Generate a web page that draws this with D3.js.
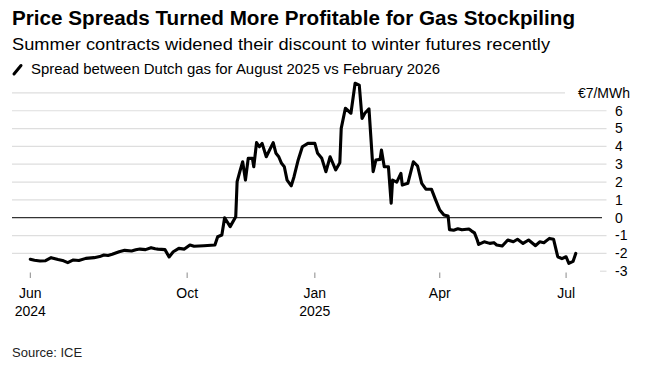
<!DOCTYPE html>
<html>
<head>
<meta charset="utf-8">
<script src="https://cdn.jsdelivr.net/npm/d3@7"></script>
<style>
  html, body { margin: 0; padding: 0; background: #fff; }
  svg { display: block; font-family: "Liberation Sans", Arial, sans-serif; }
</style>
</head>
<body>
<svg id="chart" width="645" height="367"></svg>
<script>
// ---- Data ----
const titleText = "Price Spreads Turned More Profitable for Gas Stockpiling";
const subtitleText = "Summer contracts widened their discount to winter futures recently";
const legendText = "Spread between Dutch gas for August 2025 vs February 2026";
const sourceText = "Source: ICE";
const unitLabel = "€7/MWh";

const dates = [
  "2024-06-10","2024-06-13","2024-06-17","2024-06-21","2024-06-25","2024-06-30","2024-07-04","2024-07-07",
  "2024-07-11","2024-07-15","2024-07-20","2024-07-26","2024-07-30","2024-08-02","2024-08-05","2024-08-08",
  "2024-08-13","2024-08-17","2024-08-22","2024-08-25","2024-08-28","2024-09-01","2024-09-05","2024-09-08",
  "2024-09-10","2024-09-15","2024-09-18","2024-09-21","2024-09-25","2024-09-29","2024-10-03","2024-10-06",
  "2024-10-13","2024-10-21","2024-10-23","2024-10-26","2024-10-28","2024-11-01","2024-11-05","2024-11-06",
  "2024-11-08","2024-11-10","2024-11-12","2024-11-14","2024-11-17","2024-11-18","2024-11-20","2024-11-22",
  "2024-11-24","2024-11-27","2024-12-02","2024-12-04","2024-12-06","2024-12-08","2024-12-10","2024-12-12",
  "2024-12-15","2024-12-17","2024-12-20","2024-12-23","2024-12-27","2025-01-01","2025-01-03","2025-01-06",
  "2025-01-09","2025-01-12","2025-01-16","2025-01-19","2025-01-20","2025-01-23","2025-01-27","2025-01-30",
  "2025-02-02","2025-02-04","2025-02-06","2025-02-09","2025-02-12","2025-02-14","2025-02-17","2025-02-18",
  "2025-02-20","2025-02-23","2025-02-25","2025-02-26","2025-03-01","2025-03-04","2025-03-05","2025-03-09",
  "2025-03-13","2025-03-16","2025-03-19","2025-03-22","2025-03-26","2025-03-29","2025-04-01","2025-04-04",
  "2025-04-07","2025-04-08","2025-04-11","2025-04-14","2025-04-17","2025-04-22","2025-04-24","2025-04-26",
  "2025-04-28","2025-04-29","2025-05-03","2025-05-07","2025-05-10","2025-05-12","2025-05-16","2025-05-20",
  "2025-05-24","2025-05-27","2025-05-31","2025-06-04","2025-06-09","2025-06-12","2025-06-15","2025-06-19",
  "2025-06-22","2025-06-25","2025-06-28","2025-07-01","2025-07-03","2025-07-06","2025-07-08"
];
const values = [
  -2.33,-2.39,-2.43,-2.41,-2.24,-2.35,-2.42,-2.52,
  -2.37,-2.40,-2.28,-2.24,-2.18,-2.09,-2.12,-2.05,
  -1.91,-1.83,-1.87,-1.80,-1.76,-1.79,-1.68,-1.74,
  -1.76,-1.79,-2.20,-1.91,-1.72,-1.76,-1.53,-1.60,
  -1.57,-1.53,-1.07,-0.97,0.00,-0.50,0.05,2.02,
  2.60,3.14,2.11,3.33,3.33,2.86,4.21,3.98,
  4.17,3.42,4.21,3.61,3.42,3.05,2.86,2.11,
  1.79,2.30,3.24,3.98,4.17,4.17,3.61,3.33,
  2.58,3.42,2.68,3.08,5.01,6.14,5.86,7.54,
  7.44,5.57,5.86,6.10,2.58,3.24,3.27,3.80,
  2.86,2.86,0.81,2.11,2.00,2.49,1.83,1.93,
  3.14,2.90,1.93,1.60,1.60,1.00,0.43,0.15,
  0.10,-0.67,-0.70,-0.62,-0.68,-0.63,-0.75,-0.85,
  -1.25,-1.50,-1.35,-1.44,-1.40,-1.53,-1.59,-1.25,
  -1.35,-1.21,-1.44,-1.25,-1.57,-1.35,-1.40,-1.16,
  -1.21,-2.19,-2.30,-2.19,-2.56,-2.45,-2.00
];
const yTicks = [-3,-2,-1,0,1,2,3,4,5,6,7];
const xTickDates = ["2024-06-10","2024-10-01","2025-01-01","2025-04-01","2025-07-01"];
const xTickMonths = ["Jun","Oct","Jan","Apr","Jul"];
const xTickYears = ["2024","","2025","",""];

// ---- Chart ----
const parse = d3.utcParse("%Y-%m-%d");
const data = dates.map((d, i) => ({ date: parse(d), value: values[i] }));

const svg = d3.select("#chart");

const x = d3.scaleUtc()
  .domain([parse("2024-06-10"), parse("2025-07-08")])
  .range([30.3, 575.8]);
const y = d3.scaleLinear().domain([-3, 7]).range([271.2, 92.9]);

const gridLeft = 12, gridRight = 606.5;

// gridlines
const grid = svg.append("g");
yTicks.forEach(t => {
  if (t === 0) return;
  let x1 = gridLeft, x2 = gridRight;
  if (t === -3) x1 = 600;
  if (t === 7) x2 = 565;
  grid.append("line")
    .attr("x1", x1).attr("x2", x2)
    .attr("y1", y(t)).attr("y2", y(t))
    .attr("stroke", "#dedede").attr("stroke-width", 1.2);
});

// y labels
const yl = svg.append("g").attr("font-size", 14).attr("fill", "#000");
yTicks.forEach(t => {
  if (t === 7) {
    yl.append("text").attr("x", 630).attr("y", y(t)).attr("dy", "0.35em")
      .attr("text-anchor", "end").text(unitLabel);
  } else {
    yl.append("text").attr("x", 615).attr("y", y(t)).attr("dy", "0.35em")
      .text(String(t));
  }
});

// zero line
svg.append("line")
  .attr("x1", gridLeft).attr("x2", 602)
  .attr("y1", y(0)).attr("y2", y(0))
  .attr("stroke", "#000").attr("stroke-width", 1);

// x axis ticks & labels
const xa = svg.append("g");
xTickDates.forEach((d, i) => {
  const px = x(parse(d));
  xa.append("line").attr("x1", px).attr("x2", px).attr("y1", 272.5).attr("y2", 278)
    .attr("stroke", "#8a8a8a").attr("stroke-width", 1);
  xa.append("text").attr("x", px).attr("y", 297.5).attr("text-anchor", "middle")
    .attr("font-size", 14).text(xTickMonths[i]);
  if (xTickYears[i]) {
    xa.append("text").attr("x", px).attr("y", 315.5).attr("text-anchor", "middle")
      .attr("font-size", 14).text(xTickYears[i]);
  }
});

// line
const line = d3.line().x(d => x(d.date)).y(d => y(d.value)).curve(d3.curveLinear);
svg.append("path").datum(data)
  .attr("d", line).attr("fill", "none").attr("stroke", "#000")
  .attr("stroke-width", 3.1).attr("stroke-linejoin", "round").attr("stroke-linecap", "round");

// header
svg.append("text").attr("x", 12).attr("y", 25).attr("font-size", 19.5).attr("font-weight", "bold")
  .attr("textLength", 563).attr("lengthAdjust", "spacingAndGlyphs").text(titleText);
svg.append("text").attr("x", 12).attr("y", 50).attr("font-size", 16.5)
  .attr("textLength", 538).attr("lengthAdjust", "spacingAndGlyphs").text(subtitleText);

// legend
svg.append("line").attr("x1", 14).attr("y1", 74).attr("x2", 21).attr("y2", 65.5)
  .attr("stroke", "#000").attr("stroke-width", 3).attr("stroke-linecap", "round");
svg.append("text").attr("x", 31).attr("y", 73.5).attr("font-size", 14)
  .attr("textLength", 409).attr("lengthAdjust", "spacingAndGlyphs").text(legendText);

// source
svg.append("text").attr("x", 12).attr("y", 357).attr("font-size", 13).attr("fill", "#222")
  .text(sourceText);
</script>
</body>
</html>
